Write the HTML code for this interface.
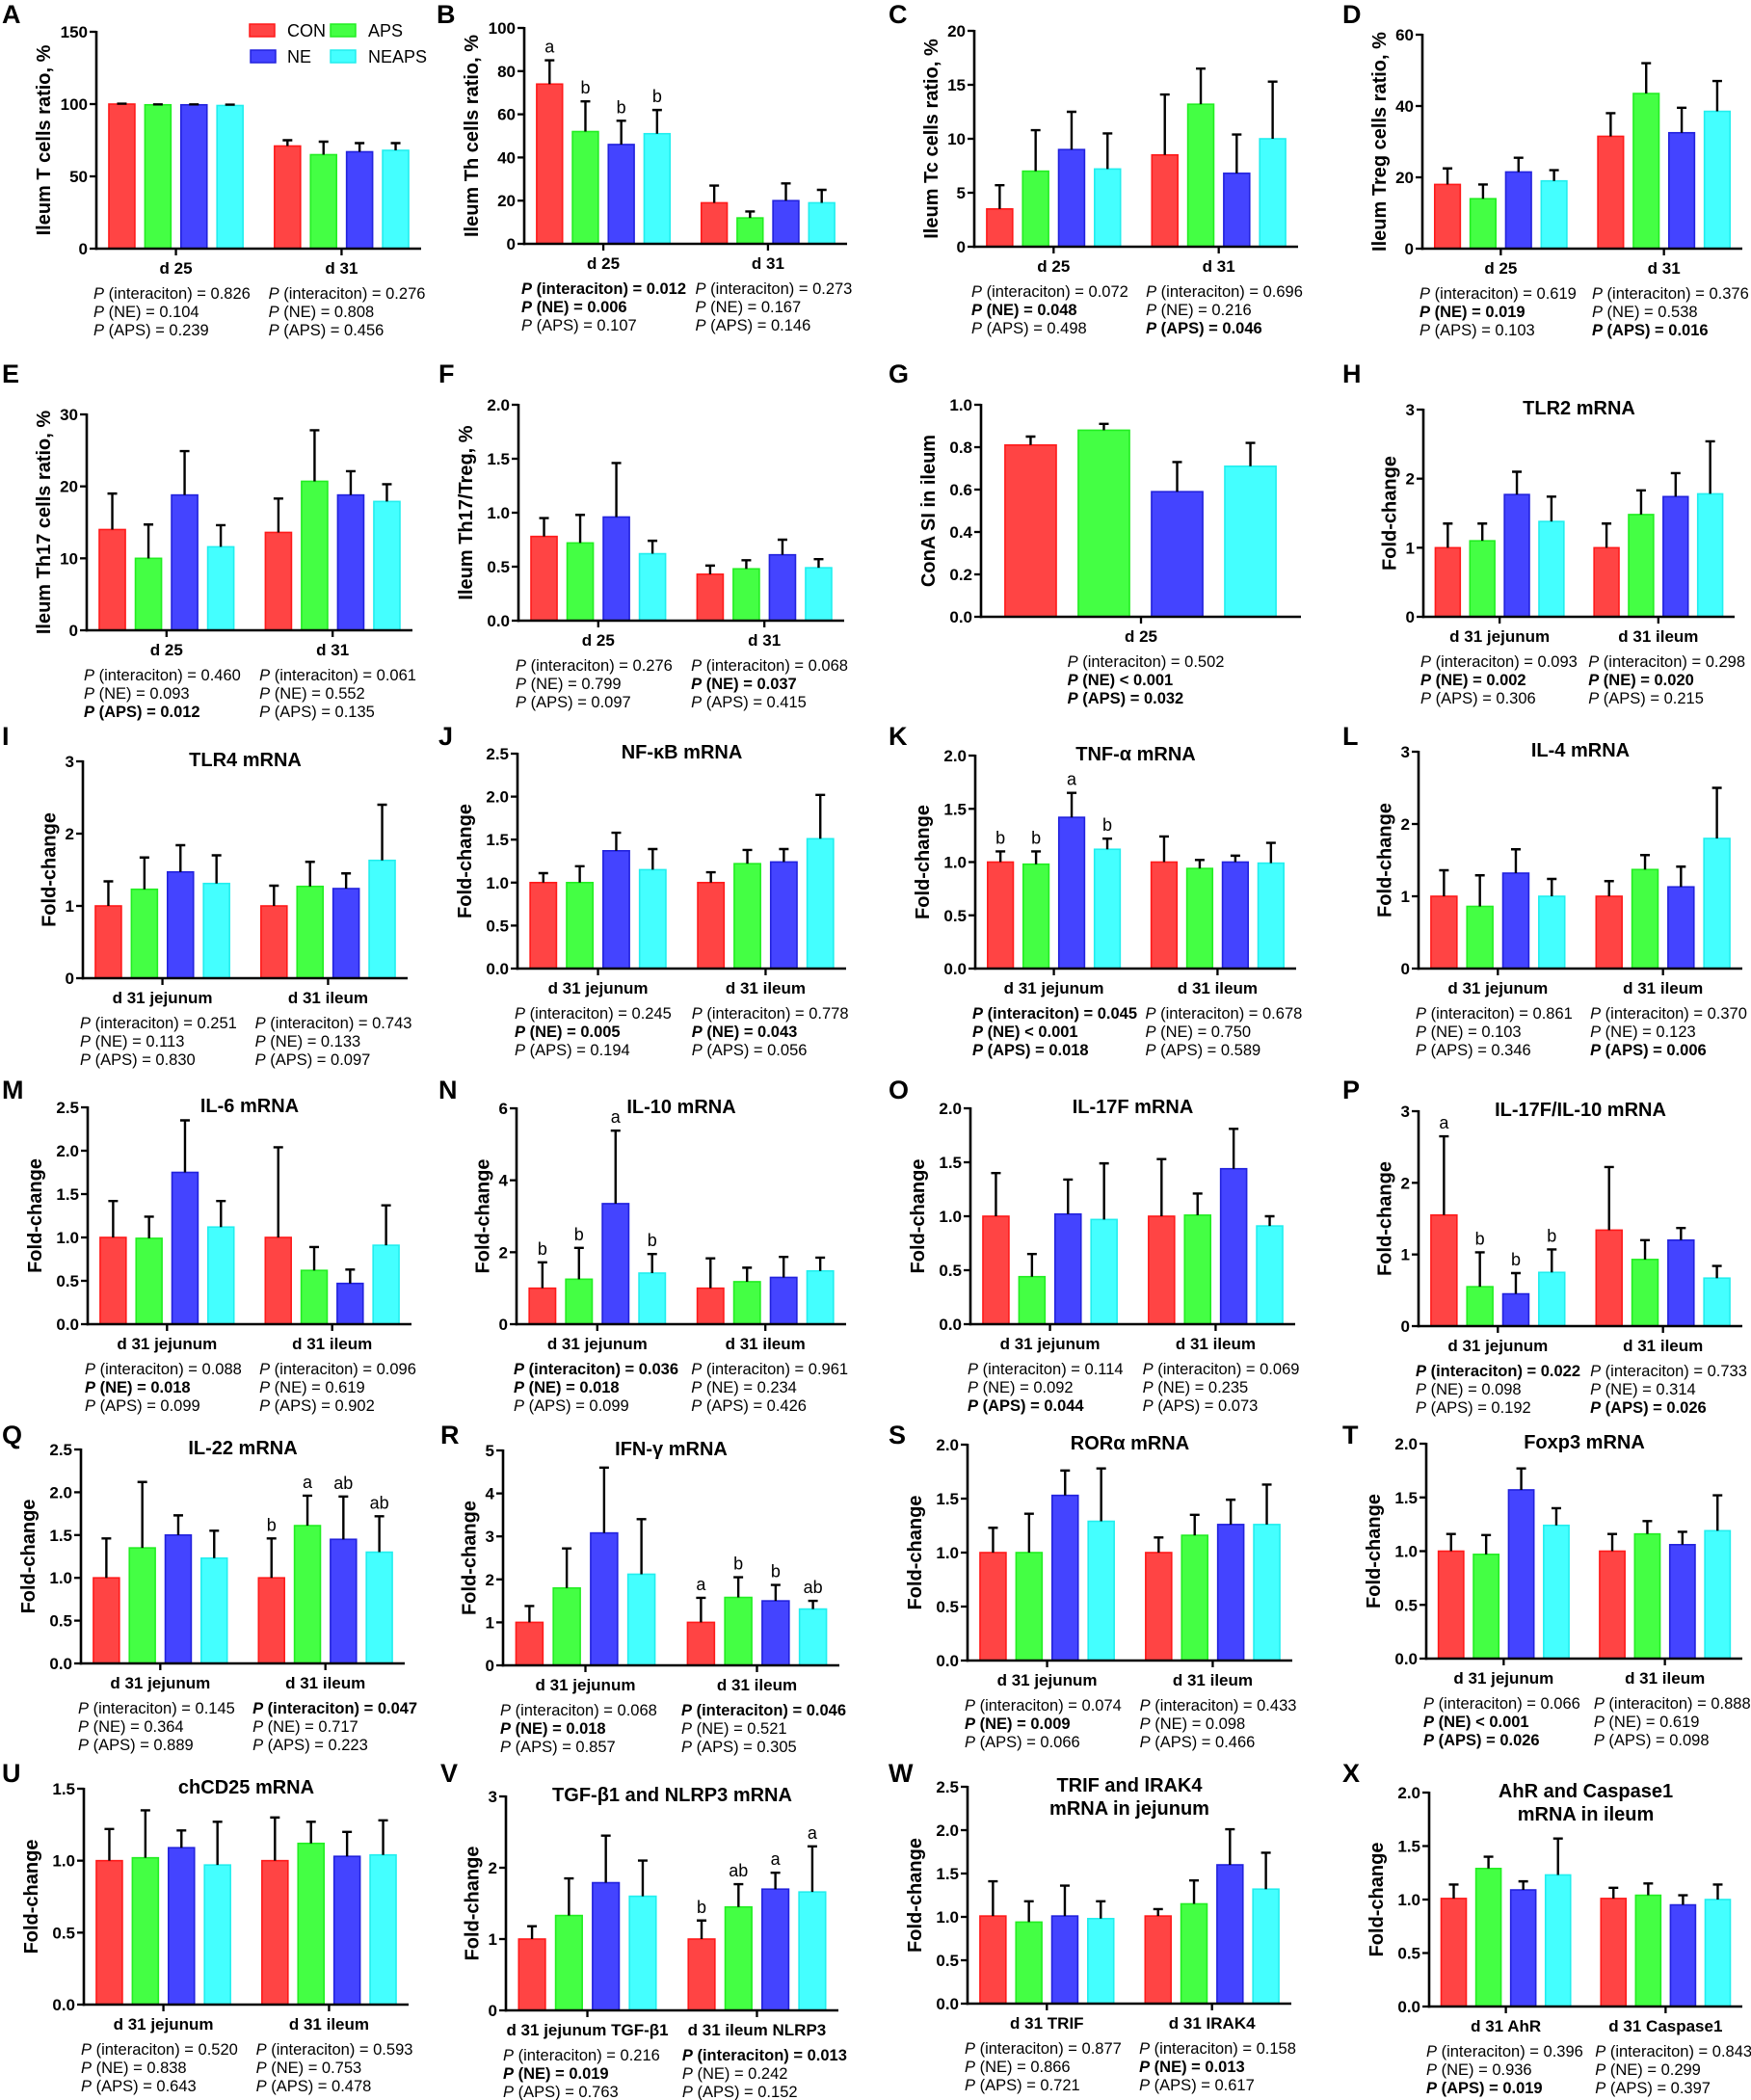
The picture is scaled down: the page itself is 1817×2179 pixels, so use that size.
<!DOCTYPE html>
<html><head><meta charset="utf-8"><title>Figure</title>
<style>
html,body{margin:0;padding:0;background:#fff;}
svg{display:block;font-family:"Liberation Sans",Arial,sans-serif;}
</style></head>
<body>
<svg id="fig" xmlns="http://www.w3.org/2000/svg" width="1817" height="2179" viewBox="0 0 1817 2179">
<rect x="0" y="0" width="1817" height="2179" fill="#fff"/>
<g font-size="18">
  <rect x="259" y="25" width="26" height="13" fill="#ff4444" stroke="#ff1a1a" stroke-width="1.5"/>
  <text x="298" y="38">CON</text>
  <rect x="343" y="25" width="26" height="13" fill="#44ff44" stroke="#22ee22" stroke-width="1.5"/>
  <text x="382" y="38">APS</text>
  <rect x="260" y="52" width="26" height="13" fill="#4444ff" stroke="#2222dd" stroke-width="1.5"/>
  <text x="298" y="65">NE</text>
  <rect x="343" y="52" width="26" height="13" fill="#44ffff" stroke="#22eeee" stroke-width="1.5"/>
  <text x="382" y="65">NEAPS</text>
</g>
</svg>
<script>
// ===== DATA (means, upper error tops, letters, p-values) =====
const A_cats=["d 25","d 31"];
const A_vals=[100,99.5,99.5,99,71,65,67,68];
const A_hi=[100.3,99.8,99.8,99.6,75,74,73,73];
const A_ticks=[0,50,100,150];
const A_p=["0.826","0.104","0.239","0.276","0.808","0.456"];

const B_cats=["d 25","d 31"];
const B_vals=[74,52,46,51,19,12,20,19];
const B_hi=[85,66,57,62,27,15,28,25];
const B_ticks=[0,20,40,60,80,100];
const B_p=["*0.012","*0.006","0.107","0.273","0.167","0.146"];
const B_let=["a","b","b","b","","","",""];

const C_cats=["d 25","d 31"];
const C_vals=[3.5,7,9,7.2,8.5,13.2,6.8,10];
const C_hi=[5.7,10.8,12.5,10.5,14.1,16.5,10.4,15.3];
const C_ticks=[0,5,10,15,20];
const C_p=["0.072","*0.048","0.498","0.696","0.216","*0.046"];

const D_cats=["d 25","d 31"];
const D_vals=[18,14,21.5,19,31.5,43.5,32.5,38.5];
const D_hi=[22.5,18,25.5,22,38,52,39.5,47];
const D_ticks=[0,20,40,60];
const D_p=["0.619","*0.019","0.103","0.376","0.538","*0.016"];

const E_cats=["d 25","d 31"];
const E_vals=[14,10,18.8,11.6,13.6,20.7,18.8,17.9];
const E_hi=[19,14.7,24.9,14.6,18.3,27.8,22.1,20.3];
const E_ticks=[0,10,20,30];
const E_p=["0.460","0.093","*0.012","0.061","0.552","0.135"];

const F_cats=["d 25","d 31"];
const F_vals=[0.78,0.72,0.96,0.62,0.43,0.48,0.61,0.49];
const F_hi=[0.95,0.98,1.46,0.74,0.51,0.56,0.75,0.57];
const F_ticks=[0,0.5,1,1.5,2];
const F_p=["0.276","0.799","0.097","0.068","*0.037","0.415"];

const G_cats=["d 25"];
const G_vals=[0.81,0.88,0.59,0.71];
const G_hi=[0.85,0.91,0.73,0.82];
const G_ticks=[0,0.2,0.4,0.6,0.8,1.0];
const G_p=["0.502","*<0.001","*0.032"];

const H_cats=["d 31 jejunum","d 31 ileum"];
const H_vals=[1.0,1.1,1.77,1.38,1.0,1.48,1.74,1.78];
const H_hi=[1.35,1.35,2.1,1.74,1.35,1.83,2.08,2.54];
const H_ticks=[0,1,2,3];
const H_p=["0.093","*0.002","0.306","0.298","*0.020","0.215"];

const I_cats=["d 31 jejunum","d 31 ileum"];
const I_vals=[1.0,1.23,1.47,1.31,1.0,1.27,1.24,1.63];
const I_hi=[1.34,1.67,1.84,1.7,1.28,1.61,1.45,2.4];
const I_ticks=[0,1,2,3];
const I_p=["0.251","0.113","0.830","0.743","0.133","0.097"];

const J_cats=["d 31 jejunum","d 31 ileum"];
const J_vals=[1.0,1.0,1.37,1.15,1.0,1.22,1.24,1.51];
const J_hi=[1.11,1.19,1.58,1.39,1.12,1.38,1.39,2.02];
const J_ticks=[0,0.5,1,1.5,2,2.5];
const J_p=["0.245","*0.005","0.194","0.778","*0.043","0.056"];

const K_cats=["d 31 jejunum","d 31 ileum"];
const K_vals=[1.0,0.98,1.42,1.12,1.0,0.94,1.0,0.99];
const K_hi=[1.1,1.1,1.65,1.22,1.24,1.02,1.06,1.18];
const K_ticks=[0,0.5,1,1.5,2];
const K_p=["*0.045","*<0.001","*0.018","0.678","0.750","0.589"];
const K_let=["b","b","a","b","","","",""];

const L_cats=["d 31 jejunum","d 31 ileum"];
const L_vals=[1.0,0.86,1.32,1.0,1.0,1.37,1.13,1.8];
const L_hi=[1.36,1.29,1.65,1.24,1.21,1.57,1.41,2.5];
const L_ticks=[0,1,2,3];
const L_p=["0.861","0.103","0.346","0.370","0.123","*0.006"];

const M_cats=["d 31 jejunum","d 31 ileum"];
const M_vals=[1.0,0.99,1.75,1.12,1.0,0.62,0.47,0.91];
const M_hi=[1.42,1.24,2.35,1.42,2.04,0.89,0.63,1.37];
const M_ticks=[0,0.5,1,1.5,2,2.5];
const M_p=["0.088","*0.018","0.099","0.096","0.619","0.902"];

const N_cats=["d 31 jejunum","d 31 ileum"];
const N_vals=[1.0,1.25,3.35,1.42,1.0,1.18,1.3,1.48];
const N_hi=[1.72,2.12,5.38,1.95,1.83,1.57,1.87,1.85];
const N_ticks=[0,2,4,6];
const N_p=["*0.036","*0.018","0.099","0.961","0.234","0.426"];
const N_let=["b","b","a","b","","","",""];

const O_cats=["d 31 jejunum","d 31 ileum"];
const O_vals=[1.0,0.44,1.02,0.97,1.0,1.01,1.44,0.91];
const O_hi=[1.4,0.65,1.34,1.49,1.53,1.21,1.81,1.0];
const O_ticks=[0,0.5,1,1.5,2];
const O_p=["0.114","0.092","*0.044","0.069","0.235","0.073"];

const P_cats=["d 31 jejunum","d 31 ileum"];
const P_vals=[1.55,0.55,0.45,0.75,1.34,0.93,1.2,0.67];
const P_hi=[2.65,1.03,0.74,1.07,2.22,1.2,1.37,0.84];
const P_ticks=[0,1,2,3];
const P_p=["*0.022","0.098","0.192","0.733","0.314","*0.026"];
const P_let=["a","b","b","b","","","",""];

const Q_cats=["d 31 jejunum","d 31 ileum"];
const Q_vals=[1.0,1.35,1.5,1.23,1.0,1.61,1.45,1.3];
const Q_hi=[1.46,2.12,1.73,1.55,1.46,1.96,1.95,1.72];
const Q_ticks=[0,0.5,1,1.5,2,2.5];
const Q_p=["0.145","0.364","0.889","*0.047","0.717","0.223"];
const Q_let=["","","","","b","a","ab","ab"];

const R_cats=["d 31 jejunum","d 31 ileum"];
const R_vals=[1.0,1.8,3.08,2.12,1.0,1.58,1.5,1.31];
const R_hi=[1.38,2.72,4.6,3.4,1.57,2.05,1.87,1.5];
const R_ticks=[0,1,2,3,4,5];
const R_p=["0.068","*0.018","0.857","*0.046","0.521","0.305"];
const R_let=["","","","","a","b","b","ab"];

const S_cats=["d 31 jejunum","d 31 ileum"];
const S_vals=[1.0,1.0,1.53,1.29,1.0,1.16,1.26,1.26];
const S_hi=[1.23,1.36,1.76,1.78,1.14,1.35,1.49,1.63];
const S_ticks=[0,0.5,1,1.5,2];
const S_p=["0.074","*0.009","0.066","0.433","0.098","0.466"];

const T_cats=["d 31 jejunum","d 31 ileum"];
const T_vals=[1.0,0.97,1.57,1.24,1.0,1.16,1.06,1.19];
const T_hi=[1.16,1.15,1.77,1.4,1.16,1.28,1.18,1.52];
const T_ticks=[0,0.5,1,1.5,2];
const T_p=["0.066","*<0.001","*0.026","0.888","0.619","0.098"];

const U_cats=["d 31 jejunum","d 31 ileum"];
const U_vals=[1.0,1.02,1.09,0.97,1.0,1.12,1.03,1.04];
const U_hi=[1.22,1.35,1.21,1.27,1.3,1.27,1.2,1.28];
const U_ticks=[0,0.5,1,1.5];
const U_p=["0.520","0.838","0.643","0.593","0.753","0.478"];

const V_cats=["d 31 jejunum TGF-β1","d 31 ileum NLRP3"];
const V_vals=[1.0,1.33,1.79,1.6,1.0,1.45,1.7,1.66];
const V_hi=[1.18,1.85,2.45,2.1,1.26,1.77,1.93,2.3];
const V_ticks=[0,1,2,3];
const V_p=["0.216","*0.019","0.763","*0.013","0.242","0.152"];
const V_let=["","","","","b","ab","a","a"];

const W_cats=["d 31 TRIF","d 31 IRAK4"];
const W_vals=[1.01,0.94,1.01,0.98,1.01,1.15,1.6,1.32];
const W_hi=[1.41,1.18,1.36,1.18,1.09,1.42,2.01,1.74];
const W_ticks=[0,0.5,1,1.5,2,2.5];
const W_p=["0.877","0.866","0.721","0.158","*0.013","0.617"];

const X_cats=["d 31 AhR","d 31 Caspase1"];
const X_vals=[1.01,1.29,1.09,1.23,1.01,1.04,0.95,1.0];
const X_hi=[1.14,1.4,1.17,1.57,1.11,1.15,1.04,1.14];
const X_ticks=[0,0.5,1,1.5,2];
const X_p=["0.396","0.936","*0.019","0.843","0.299","0.397"];

// ===== rendering =====
const NS='http://www.w3.org/2000/svg';
const svg=document.getElementById('fig');
const FILL=['#ff4444','#44ff44','#4444ff','#44ffff'];
const EDGE=['#ff1a1a','#22ee22','#2222dd','#22eeee'];
const GNAME=['con','aps','ne','neaps'];
function mk(tag,attrs,parent,txt){const e=document.createElementNS(NS,tag);for(const k in attrs)e.setAttribute(k,attrs[k]);if(txt!=null)e.textContent=txt;(parent||svg).appendChild(e);return e;}

function draw(id,lay,cats,vals,hi,ticks,dec,pv,lets,ytitle,title){
  const [ax,yt,y0,x2,lx,ly]=lay;
  const W=x2-ax, mx=ticks[ticks.length-1];
  const y=v=>y0-(v/mx)*(y0-yt);
  const g=mk('g',{});
  
  
  const lt=mk('text',{x:lx,y:ly,'font-size':27,'font-weight':'bold'},g,id);
  
  
  if(title){
    const tl=Array.isArray(title)?title:[title];
    tl.forEach((t,i)=>{
      const te=mk('text',{x:(ax+x2)/2,y:yt+5+i*24,'font-size':20,'font-weight':'bold','text-anchor':'middle'},g,t);
      
      
    });
  }
  const n=cats.length;
  let centers=[],bw,gcs,px;
  if(n===2){gcs=[0.245*W+ax,0.755*W+ax];bw=0.08*W;
    for(let gi=0;gi<2;gi++)for(let k=0;k<4;k++)centers.push(gcs[gi]+(k-1.5)*0.111*W);
    px=[ax-3,ax+0.53*W];}
  else{gcs=[ax+0.5*W];bw=0.16*W;[0.155,0.384,0.613,0.842].forEach(f=>centers.push(ax+f*W));px=[ax+0.27*W];}
  vals.forEach((v,i)=>{
    const c=centers[i],k=i%4;
    const r=mk('rect',{x:c-bw/2,y:y(v),width:bw,height:y0-y(v),fill:FILL[k],stroke:EDGE[k],'stroke-width':1.6},g);
    
    
    const e=mk('path',{d:`M${c},${y(v)}V${y(hi[i])}M${c-5},${y(hi[i])}H${c+5}`,stroke:'#000','stroke-width':2.4,fill:'none'},g);
    
    
    if(lets&&lets[i]){
      const l=mk('text',{x:c,y:y(hi[i])-8,'font-size':18,'text-anchor':'middle'},g,lets[i]);
      
      
    }
  });
  const ya=mk('line',{x1:ax,y1:yt-1,x2:ax,y2:y0+1.2,stroke:'#000','stroke-width':2.6},g);
  
  
  const xa=mk('line',{x1:ax-1.2,y1:y0,x2:x2,y2:y0,stroke:'#000','stroke-width':2.6},g);
  
  
  let maxc=0;
  ticks.forEach(t=>{
    const lab=t.toFixed(dec);maxc=Math.max(maxc,lab.length);
    const tk=mk('line',{x1:ax-7,y1:y(t),x2:ax,y2:y(t),stroke:'#000','stroke-width':2.3},g);
    
    
    const tx=mk('text',{x:ax-9,y:y(t)+6,'font-size':17,'font-weight':'bold','text-anchor':'end'},g,lab);
    
    
  });
  const off=26+maxc*9.6, tcx=ax-off+7, tcy=(yt+y0)/2;
  const yl=mk('text',{x:tcx,y:tcy,'font-size':20,'font-weight':'bold','text-anchor':'middle',transform:`rotate(-90 ${tcx} ${tcy})`},g,ytitle);
  
  
  const names=['(interaciton)','(NE)','(APS)'];
  gcs.forEach((gc,gi)=>{
    const tk=mk('line',{x1:gc,y1:y0,x2:gc,y2:y0+7,stroke:'#000','stroke-width':2.3},g);
    
    
    const cl=mk('text',{x:gc,y:y0+26,'font-size':17,'font-weight':'bold','text-anchor':'middle'},g,cats[gi]);
    
    
    for(let j=0;j<3;j++){
      let s=pv[gi*3+j];const b=s[0]==='*';if(b)s=s.slice(1);
      const val=s[0]==='<'?' < '+s.slice(1):' = '+s;
      const t=mk('text',{x:px[gi],y:y0+52+j*19,'font-size':16.5,'font-weight':b?'bold':'normal'},g);
      
      
      mk('tspan',{'font-style':'italic'},t,'P');
      mk('tspan',{},t,' '+names[j]+val);
    }
  });
}
const FC='Fold-change';
draw('A',[100,33,258,437,2,24],A_cats,A_vals,A_hi,A_ticks,0,A_p,null,'Ileum T cells ratio, %',null);
draw('B',[544,29,253,879,453,24],B_cats,B_vals,B_hi,B_ticks,0,B_p,B_let,'Ileum Th cells ratio, %',null);
draw('C',[1011,32,256,1347,922,24],C_cats,C_vals,C_hi,C_ticks,0,C_p,null,'Ileum Tc cells ratio, %',null);
draw('D',[1476,36,258,1808,1393,24],D_cats,D_vals,D_hi,D_ticks,0,D_p,null,'Ileum Treg cells ratio, %',null);
draw('E',[90,430,654,428,2,397],E_cats,E_vals,E_hi,E_ticks,0,E_p,null,'Ileum Th17 cells ratio, %',null);
draw('F',[538,420,644,876,455,397],F_cats,F_vals,F_hi,F_ticks,1,F_p,null,'Ileum Th17/Treg, %',null);
draw('G',[1018,420,640,1350,922,397],G_cats,G_vals,G_hi,G_ticks,1,G_p,null,'ConA SI in ileum',null);
draw('H',[1477,425,640,1800,1393,397],H_cats,H_vals,H_hi,H_ticks,0,H_p,null,FC,'TLR2 mRNA');
draw('I',[86,790,1015,423,2,773],I_cats,I_vals,I_hi,I_ticks,0,I_p,null,FC,'TLR4 mRNA');
draw('J',[537,782,1005,878,455,773],J_cats,J_vals,J_hi,J_ticks,1,J_p,null,FC,'NF-κB mRNA');
draw('K',[1012,784,1005,1345,922,773],K_cats,K_vals,K_hi,K_ticks,1,K_p,K_let,FC,'TNF-α mRNA');
draw('L',[1472,780,1005,1808,1393,773],L_cats,L_vals,L_hi,L_ticks,0,L_p,null,FC,'IL-4 mRNA');
draw('M',[91,1149,1374,427,2,1140],M_cats,M_vals,M_hi,M_ticks,1,M_p,null,FC,'IL-6 mRNA');
draw('N',[536,1150,1374,878,455,1140],N_cats,N_vals,N_hi,N_ticks,0,N_p,N_let,FC,'IL-10 mRNA');
draw('O',[1007,1150,1374,1344,922,1140],O_cats,O_vals,O_hi,O_ticks,1,O_p,null,FC,'IL-17F mRNA');
draw('P',[1472,1153,1376,1808,1393,1140],P_cats,P_vals,P_hi,P_ticks,0,P_p,P_let,FC,'IL-17F/IL-10 mRNA');
draw('Q',[84,1504,1726,420,2,1498],Q_cats,Q_vals,Q_hi,Q_ticks,1,Q_p,Q_let,FC,'IL-22 mRNA');
draw('R',[522,1505,1728,871,457,1498],R_cats,R_vals,R_hi,R_ticks,0,R_p,R_let,FC,'IFN-γ mRNA');
draw('S',[1004,1499,1723,1341,922,1498],S_cats,S_vals,S_hi,S_ticks,1,S_p,null,FC,'RORα mRNA');
draw('T',[1480,1498,1721,1808,1393,1498],T_cats,T_vals,T_hi,T_ticks,1,T_p,null,FC,'Foxp3 mRNA');
draw('U',[87,1856,2080,424,2,1849],U_cats,U_vals,U_hi,U_ticks,1,U_p,null,FC,'chCD25 mRNA');
draw('V',[525,1864,2086,870,457,1849],V_cats,V_vals,V_hi,V_ticks,0,V_p,V_let,FC,'TGF-β1 and NLRP3 mRNA');
draw('W',[1004,1854,2079,1340,922,1849],W_cats,W_vals,W_hi,W_ticks,1,W_p,null,FC,['TRIF and IRAK4','mRNA in jejunum']);
draw('X',[1483,1860,2082,1808,1393,1849],X_cats,X_vals,X_hi,X_ticks,1,X_p,null,FC,['AhR and Caspase1','mRNA in ileum']);
</script>
</body></html>
